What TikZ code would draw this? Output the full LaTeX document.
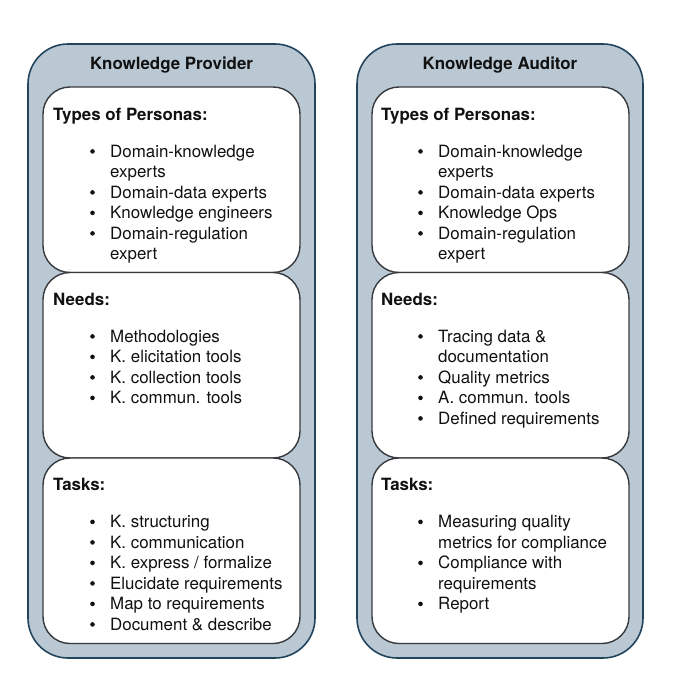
\documentclass[tikz,border=0pt]{standalone}
\usepackage{fontspec}
\setmainfont{TeX Gyre Heros}
\definecolor{outerfill}{HTML}{BAC8D3}
\definecolor{outerdraw}{HTML}{23445D}
\definecolor{innerdraw}{HTML}{36393D}
\definecolor{txtcol}{HTML}{111111}
\tikzset{
  outerbox/.style={draw=outerdraw, fill=outerfill, line width=1.6pt, rounded corners=40pt, anchor=north west, inner sep=0pt, outer sep=0pt},
  innerbox/.style={draw=innerdraw, fill=white, line width=1.4pt, rounded corners=27pt, anchor=north west, inner sep=0pt, outer sep=0pt, minimum width=257pt, minimum height=185.5pt},
  txt/.style={anchor=base west, inner sep=0pt, text=txtcol, font=\fontsize{16.9}{20.4}\selectfont},
  hdr/.style={txt, font=\fontsize{16.9}{20.4}\selectfont\bfseries},
  ttl/.style={anchor=base, inner sep=0pt, text=txtcol, font=\fontsize{16.9}{20.4}\selectfont\bfseries},
  bul/.style={circle, fill=txtcol, inner sep=0pt, minimum size=4.6pt},
}
\newcommand\bitem[4]{\node[bul] (#1b) at ({#2-17.5},{#3-5.6}) {}; \node[txt] (#1) at (#2,#3) {#4};}
\begin{document}
\begin{tikzpicture}[x=1pt,y=-1pt]
\useasboundingbox (0,0) rectangle (679,688);
% ---------- Left column ----------
\node[outerbox, minimum width=287pt, minimum height=614pt] (L) at (28,44) {};
\node[ttl] (Lt) at (171.5,69) {Knowledge Provider};
\node[innerbox] (L1) at (43,87) {};
\node[innerbox] (L2) at (43,272.5) {};
\node[innerbox] (L3) at (43,458) {};
\node[hdr] (L1h) at (53,120) {Types of Personas:};
\bitem{L1a}{110}{157}{Domain-knowledge}
\node[txt] (L1a2) at (110,177.5) {experts};
\bitem{L1b}{110}{198}{Domain-data experts}
\bitem{L1c}{110}{218.5}{Knowledge engineers}
\bitem{L1d}{110}{239}{Domain-regulation}
\node[txt] (L1d2) at (110,259.5) {expert};
\node[hdr] (L2h) at (53,305) {Needs:};
\bitem{L2a}{110}{342}{Methodologies}
\bitem{L2b}{110}{362.5}{K. elicitation tools}
\bitem{L2c}{110}{383}{K. collection tools}
\bitem{L2d}{110}{403.5}{K. commun. tools}
\node[hdr] (L3h) at (53,490) {Tasks:};
\bitem{L3a}{110}{527.5}{K. structuring}
\bitem{L3b}{110}{548}{K. communication}
\bitem{L3c}{110}{568.5}{K. express / formalize}
\bitem{L3d}{110}{589}{Elucidate requirements}
\bitem{L3e}{110}{609.5}{Map to requirements}
\bitem{L3f}{110}{630}{Document \& describe}
% ---------- Right column ----------
\node[outerbox, minimum width=286pt, minimum height=614pt] (R) at (357,44) {};
\node[ttl] (Rt) at (500,69) {Knowledge Auditor};
\node[innerbox] (R1) at (372,87) {};
\node[innerbox] (R2) at (372,272.5) {};
\node[innerbox] (R3) at (372,458) {};
\node[hdr] (R1h) at (381,120) {Types of Personas:};
\bitem{R1a}{438}{157}{Domain-knowledge}
\node[txt] (R1a2) at (438,177.5) {experts};
\bitem{R1b}{438}{198}{Domain-data experts}
\bitem{R1c}{438}{218.5}{Knowledge Ops}
\bitem{R1d}{438}{239}{Domain-regulation}
\node[txt] (R1d2) at (438,259.5) {expert};
\node[hdr] (R2h) at (381,305) {Needs:};
\bitem{R2a}{438}{342}{Tracing data \&}
\node[txt] (R2a2) at (438,362.5) {documentation};
\bitem{R2b}{438}{383}{Quality metrics}
\bitem{R2c}{438}{403.5}{A. commun. tools}
\bitem{R2d}{438}{424}{Defined requirements}
\node[hdr] (R3h) at (381,490) {Tasks:};
\bitem{R3a}{438}{527.5}{Measuring quality}
\node[txt] (R3a2) at (438,548) {metrics for compliance};
\bitem{R3b}{438}{568.5}{Compliance with}
\node[txt] (R3b2) at (438,589) {requirements};
\bitem{R3c}{438}{609.5}{Report}
\end{tikzpicture}
\end{document}
